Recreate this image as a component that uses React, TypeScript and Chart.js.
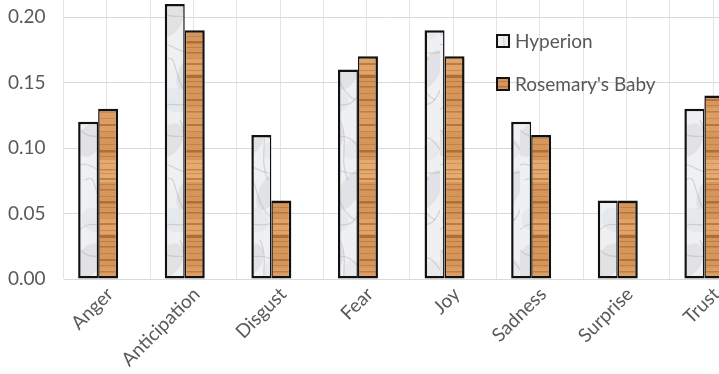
import { useEffect, useRef } from "react";
import { Chart, registerables } from "chart.js";

Chart.register(...registerables);

const categories = ["Anger", "Anticipation", "Disgust", "Fear", "Joy", "Sadness", "Surprise", "Trust"];
const hyperion = [0.12, 0.21, 0.11, 0.16, 0.19, 0.12, 0.06, 0.13];
const rosemarysBaby = [0.13, 0.19, 0.06, 0.17, 0.17, 0.11, 0.06, 0.14];
const seriesNames = ["Hyperion", "Rosemary's Baby"];
const yTickStep = 0.05;

const FONT = "Lato, 'Open Sans', sans-serif";
const TEXT = "#595959";
const W = 719;
const H = 374;
const Y_AXIS_W = 63.5;
const X_AXIS_H = 95;
const X_MIN = -0.4;
const X_MAX = 7.169;

function woodPattern(ctx: CanvasRenderingContext2D) {
  const c = document.createElement("canvas");
  c.width = 24;
  c.height = 160;
  const g = c.getContext("2d")!;
  g.fillStyle = "#D6965A";
  g.fillRect(0, 0, 24, 160);
  const bands: [number, number, string][] = [
    [0, 22, "rgba(235,178,120,0.7)"],
    [58, 16, "rgba(232,172,112,0.6)"],
    [108, 24, "rgba(226,165,105,0.55)"],
  ];
  bands.forEach(([y, h, col]) => {
    g.fillStyle = col;
    g.fillRect(0, y, 24, h);
  });
  const stripes: [number, number, number][] = [
    [3, 1, 0.25], [9, 1.5, 0.4], [13, 1, 0.25], [18, 2, 0.45], [24, 1, 0.3], [29, 1.5, 0.4],
    [36, 1, 0.25], [41, 2.5, 0.55], [47, 1, 0.3], [52, 1.5, 0.45], [58, 1, 0.25], [63, 2, 0.45],
    [70, 1, 0.3], [75, 3, 0.55], [81, 1, 0.35], [86, 1.5, 0.45], [93, 1, 0.25], [99, 2, 0.5],
    [105, 1, 0.3], [111, 1.5, 0.4], [118, 1, 0.25], [124, 2, 0.5], [131, 1, 0.3],
    [137, 1.5, 0.4], [144, 1, 0.25], [150, 2.5, 0.55], [156, 1, 0.3],
  ];
  stripes.forEach(([y, h, a]) => {
    g.fillStyle = `rgba(140,78,30,${a})`;
    g.fillRect(0, y, 24, h);
  });
  return ctx.createPattern(c, "repeat")!;
}

function marblePattern(ctx: CanvasRenderingContext2D) {
  const c = document.createElement("canvas");
  c.width = 40;
  c.height = 120;
  const g = c.getContext("2d")!;
  g.fillStyle = "#EFF0F2";
  g.fillRect(0, 0, 40, 120);
  const blobs: [number, number, number, number, string][] = [
    [10, 20, 12, 18, "rgba(195,197,200,0.3)"],
    [30, 70, 10, 22, "rgba(190,192,196,0.28)"],
    [15, 100, 14, 12, "rgba(205,212,220,0.25)"],
    [32, 30, 8, 10, "rgba(205,210,215,0.22)"],
  ];
  blobs.forEach(([x, y, rx, ry, col]) => {
    g.fillStyle = col;
    g.beginPath();
    g.ellipse(x, y, rx, ry, 0.5, 0, Math.PI * 2);
    g.fill();
  });
  const veins: number[][] = [
    [0, 10, 15, 25, 25, 5, 40, 30],
    [5, 60, 20, 50, 10, 85, 35, 100],
    [0, 110, 12, 95, 30, 118, 40, 90],
    [20, 0, 30, 20, 18, 40, 28, 60],
    [0, 45, 10, 40, 22, 58, 40, 52],
  ];
  g.strokeStyle = "rgba(155,158,162,0.35)";
  g.lineWidth = 1.2;
  veins.forEach((v) => {
    g.beginPath();
    g.moveTo(v[0], v[1]);
    g.bezierCurveTo(v[2], v[3], v[4], v[5], v[6], v[7]);
    g.stroke();
  });
  return ctx.createPattern(c, "repeat")!;
}

const insideLegend = {
  id: "insideLegend",
  afterDraw(chart: any, _args: any, opts: any) {
    const ctx = chart.ctx as CanvasRenderingContext2D;
    chart.data.datasets.forEach((ds: any, i: number) => {
      const x = opts.x;
      const y = opts.y + i * opts.spacing;
      const b = opts.box;
      ctx.save();
      ctx.fillStyle = ds.backgroundColor;
      ctx.fillRect(x, y, b, b);
      ctx.lineWidth = 2;
      ctx.strokeStyle = "#111";
      ctx.strokeRect(x, y, b, b);
      ctx.fillStyle = TEXT;
      ctx.font = `19px ${FONT}`;
      ctx.textBaseline = "middle";
      ctx.textAlign = "left";
      ctx.fillText(ds.label, x + b + 6, y + b / 2 + 1);
      ctx.restore();
    });
  },
};

export default function App() {
  const ref = useRef<HTMLCanvasElement>(null);

  useEffect(() => {
    const canvas = ref.current!;
    const ctx = canvas.getContext("2d")!;
    const wood = woodPattern(ctx);
    const marble = marblePattern(ctx);

    const chart = new Chart(ctx, {
      type: "bar",
      data: {
        datasets: [
          {
            label: seriesNames[0],
            data: hyperion.map((v, i) => ({ x: i, y: v })) as any,
            backgroundColor: marble as any,
            borderColor: "#111",
            borderWidth: { top: 2.5, left: 2.5, bottom: 2.5, right: 1.5 } as any,
            borderSkipped: false,
          },
          {
            label: seriesNames[1],
            data: rosemarysBaby.map((v, i) => ({ x: i, y: v })) as any,
            backgroundColor: wood as any,
            borderColor: "#111",
            borderWidth: { top: 2.5, left: 1.5, bottom: 2.5, right: 2.5 } as any,
            borderSkipped: false,
          },
        ],
      },
      options: {
        responsive: false,
        animation: false,
        layout: { padding: 0 },
        categoryPercentage: 0.462,
        barPercentage: 1,
        plugins: {
          legend: { display: false },
          tooltip: { enabled: false },
          insideLegend: { x: 497, y: 35, spacing: 43, box: 12 },
        } as any,
        scales: {
          x: {
            type: "linear",
            position: "bottom",
            offset: false,
            min: X_MIN,
            max: X_MAX,
            afterBuildTicks: (scale: any) => {
              scale.ticks = categories.map((_, i) => ({ value: i }));
            },
            afterFit: (scale: any) => {
              scale.height = X_AXIS_H;
              scale.paddingLeft = 0;
              scale.paddingRight = 0;
            },
            ticks: {
              autoSkip: false,
              maxRotation: 45,
              minRotation: 45,
              padding: -4,
              labelOffset: 12,
              color: TEXT,
              font: { family: FONT, size: 19 },
              callback: (v: any) => categories[Math.round(Number(v))] ?? "",
            },
            grid: { display: false, offset: false },
            border: { display: false },
          },
          xg: {
            type: "linear",
            position: "bottom",
            offset: false,
            min: 0,
            max: X_MAX - X_MIN,
            ticks: { display: false, stepSize: 0.5, includeBounds: false },
            grid: { color: "#e4e4e4", lineWidth: 1, drawTicks: false, offset: false },
            border: { display: false },
            afterFit: (scale: any) => {
              scale.height = 0;
              scale.paddingLeft = 0;
              scale.paddingRight = 0;
            },
          },
          y: {
            min: 0,
            max: 0.213,
            afterFit: (scale: any) => {
              scale.width = Y_AXIS_W;
              scale.paddingTop = 0;
              scale.paddingBottom = 0;
            },
            ticks: {
              stepSize: yTickStep,
              includeBounds: false,
              padding: 18,
              color: TEXT,
              font: { family: FONT, size: 19 },
              callback: (v: any) => Number(v).toFixed(2),
            },
            grid: { color: "#d9d9d9", lineWidth: 1, drawTicks: false },
            border: { display: false },
          },
        } as any,
      },
      plugins: [insideLegend],
    });
    return () => chart.destroy();
  }, []);

  return (
    <div style={{ position: "fixed", left: 0, top: 0, width: W, height: H, overflow: "hidden", background: "#fff" }}>
      <canvas ref={ref} width={W} height={H} style={{ display: "block" }} />
    </div>
  );
}
